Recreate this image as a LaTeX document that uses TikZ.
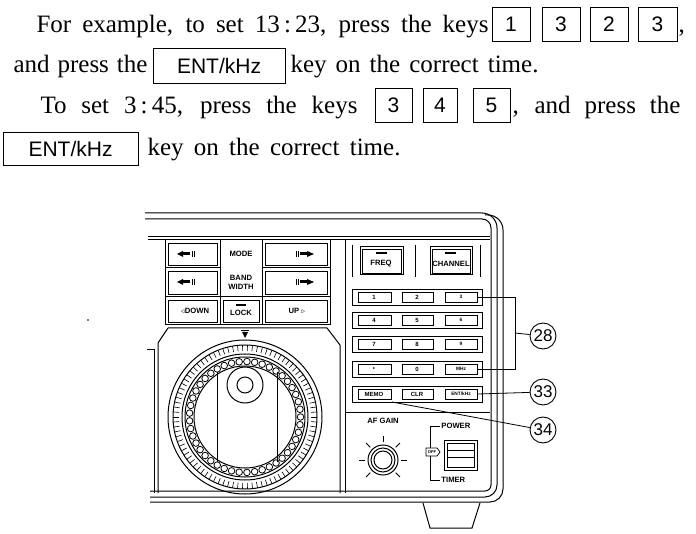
\documentclass[tikz,border=0pt]{standalone}
\usepackage{fontspec}
\setmainfont{Liberation Serif}
\setsansfont{Liberation Sans}
\begin{document}
\begin{tikzpicture}[x=1pt,y=-1pt,line width=1pt,
  body/.style={font=\fontsize{25}{28}\selectfont,anchor=base west,inner sep=0pt},
  keybox/.style={draw,line width=0.9pt,font=\sffamily\fontsize{21}{24}\selectfont,minimum height=34pt,inner sep=0pt,anchor=center},
  lbl/.style={font=\sffamily\bfseries\fontsize{8.5}{9}\selectfont,inner sep=0pt,scale=0.9},
  tiny/.style={font=\sffamily\bfseries\fontsize{6}{6}\selectfont,inner sep=0pt},
  pad/.style={draw,line width=0.9pt},
  callout/.style={draw,circle,line width=0.9pt,minimum size=26pt,inner sep=0pt,font=\sffamily\fontsize{17}{17}\selectfont}]
\useasboundingbox (0,0) rectangle (696,534);
% ---------- text ----------
\node[body] (t1) at (36,33) {\makebox[452pt][s]{For example, to set 13\,:\,23, press the keys}};
\node[keybox,minimum width=38pt] (k1) at (511,24) {1};
\node[keybox,minimum width=38pt] (k2) at (561,24) {3};
\node[keybox,minimum width=38pt] (k3) at (609,24) {2};
\node[keybox,minimum width=39pt] (k4) at (657.5,24) {3};
\node[body] (c1) at (678,33) {,};
\node[body] (t2) at (13,73) {\makebox[134pt][s]{and press the}};
\node[keybox,minimum width=132pt,minimum height=35pt] (e1) at (219,65.5) {ENT/kHz};
\node[body] (t3) at (290,73) {\makebox[248pt][s]{key on the correct time.}};
\node[body] (t4) at (40,114) {\makebox[317pt][s]{To set 3\,:\,45, press the keys}};
\node[keybox,minimum width=37pt] (k5) at (393.5,105) {3};
\node[keybox,minimum width=34pt] (k6) at (440,105) {4};
\node[keybox,minimum width=37pt] (k7) at (491.5,105) {5};
\node[body] (t5) at (512,114) {\makebox[168pt][s]{, and press the}};
\node[keybox,minimum width=135pt,minimum height=33pt] (e2) at (70.5,148.5) {ENT/kHz};
\node[body] (t6) at (147,156) {\makebox[253pt][s]{key on the correct time.}};
% ---------- casing ----------
\draw (145,213) -- (482,213) arc (-90:0:15) -- (497,485) arc (0:90:12) -- (150,497);
\draw (145,219) -- (482,219) arc (-90:0:9) -- (491,485) arc (0:90:6) -- (150,491);
\draw (150,502) -- (490,502) arc (90:0:13) -- (503,230) arc (0:-90:15) -- (485,215);
\draw (148,237) -- (490,237);
\draw (148,240) -- (490,240);
% foot
\draw (423,503) -- (430,528) -- (472,528) -- (480,503);
% left button panel
\draw (165,240) rectangle (330,325);
\foreach \x in {220,262} \draw (\x,240) -- (\x,325);
\draw (165,268) -- (220,268) (262,268) -- (330,268);
\draw (165,297) -- (330,297);
\draw[line width=0.6pt] (168,243) rectangle (217,265) (168,271) rectangle (217,294) (168,300) rectangle (217,322);
\draw[line width=0.6pt] (265,243) rectangle (327,265) (265,271) rectangle (327,294) (265,300) rectangle (327,322);
\draw[line width=0.6pt] (223,300) rectangle (259,322);
\foreach \y in {254,282}{
  \fill (182,\y-1.5) rectangle (190,\y+1.5); \fill (177,\y) -- (183,\y-3) -- (183,\y+3) -- cycle;
  \draw[line width=0.8pt] (192,\y-3) -- (192,\y+3) (194,\y-3) -- (194,\y+3);
  \fill (300,\y-1.5) rectangle (308,\y+1.5); \fill (314,\y) -- (307,\y-3) -- (307,\y+3) -- cycle;
  \draw[line width=0.8pt] (296,\y-3) -- (296,\y+3) (298,\y-3) -- (298,\y+3);}
\node[lbl] (mode) at (241,254) {MODE};
\node[lbl] (bw1) at (241,278) {BAND};
\node[lbl] (bw2) at (241,287) {WIDTH};
\node[lbl] (lock) at (241,313) {LOCK};
\fill (236,304) rectangle (246,306);
\node[lbl] (down) at (195,311) {$\triangleleft$DOWN};
\node[lbl] (up) at (297,311) {UP $\triangleright$};
% dial housing
\draw (168,328) -- (327,328) -- (340,345) -- (340,493);
\draw (168,328) -- (158,343) -- (158,493);
\draw (147,350) -- (154,350) -- (154,493);
\draw (345,340) -- (345,493);
% dial
\def\cx{245}\def\cy{417}
\draw (\cx,\cy) circle (77);
\draw (\cx,\cy) circle (72);
\foreach \a in {0,4,...,356} \draw[line width=0.6pt] ({\cx+72*cos(\a)},{\cy+72*sin(\a)}) -- ({\cx+66*cos(\a)},{\cy+66*sin(\a)});
\draw (\cx,\cy) circle (63);
\draw (\cx,\cy) circle (60);
\foreach \a in {0,8,...,352} \draw[line width=0.8pt] ({\cx+55.5*cos(\a)},{\cy+55.5*sin(\a)}) circle (3.3);
\draw (\cx,\cy) circle (51);
\draw (217,\cy-45) -- (217,\cy+45) (277,\cy-45) -- (277,\cy+45);
\fill[white] (\cx,385) circle (18);
\draw (\cx,385) circle (18) (\cx,385) circle (8);
\fill (\cx,338) -- (\cx-3,332) -- (\cx+3,332) -- cycle;
\draw (\cx-4,331) -- (\cx+4,331);
% right panel
\draw (345,240) -- (345,340);
\draw (352,245) -- (352,277) (415,245) -- (415,277) (480,245) -- (480,277);
\draw (360,247) rectangle (403,275); \draw[line width=0.6pt] (362,249) rectangle (401,273);
\draw (430,247) rectangle (472,275); \draw[line width=0.6pt] (432,249) rectangle (470,273);
\fill (376,252) rectangle (387,254); \fill (445,252) rectangle (456,254);
\node[lbl] (freq) at (381,264) {FREQ};
\node[lbl] (chan) at (451,264) {CHANNEL};
\foreach \r/\y/\a/\b/\c in {1/297/1/2/3,2/320/4/5/6,3/344/7/8/9,4/369/{\textbullet}/0/MHz,5/394/MEMO/CLR/{ENT/kHz}}{
  \draw[pad] (352,\y-8) rectangle (482,\y+8);
  \draw[pad] (358,\y-5) rectangle (391,\y+5);
  \draw[pad] (402,\y-5) rectangle (433,\y+5);
  \draw[pad] (445,\y-5) rectangle (477,\y+5);
  \node[tiny] at (374,\y) {\a};
  \node[tiny] at (417,\y) {\b};
  \node[tiny,scale=0.8] at (461,\y) {\c};}
\coordinate (k3r) at (478,297);
\coordinate (kmr) at (478,369);
\coordinate (ker) at (478,394);
\coordinate (kmm) at (392,402);
\draw (345,412) -- (490,412);
% callouts
\node[callout] (c28) at (543,336) {28};
\node[callout] (c33) at (543,392) {33};
\node[callout] (c34) at (543,430) {34};
\draw[line width=0.8pt] (k3r) -- (515,297) -- (515,369) -- (kmr);
\draw[line width=0.8pt] (515,333) -- (c28);
\draw[line width=0.8pt] (ker) -- (c33);
\draw[line width=0.8pt] (kmm) -- (c34);
% AF gain
\node[lbl] (af) at (383,421) {AF GAIN};
\draw (383,460) circle (15) (383,460) circle (12) (383,460) circle (9);
\foreach \a in {-225,-180,...,45} \draw[line width=0.8pt] ({383+18*cos(\a)},{460+18*sin(\a)}) -- ({383+24*cos(\a)},{460+24*sin(\a)});
% power switch
\draw (440,426) -- (430,426) -- (430,480) -- (440,480);
\node[lbl,anchor=west] (pw) at (441,426) {POWER};
\node[lbl,anchor=west] (tm) at (441,480) {TIMER};
\draw (444,440) rectangle (477,470); \draw[line width=0.6pt] (447,443) rectangle (474,467);
\draw[line width=0.6pt] (447,450) -- (474,450) (447,457) -- (474,457);
\draw[line width=0.7pt,fill=white] (426,448) -- (437,448) -- (440,452) -- (437,456) -- (426,456) -- cycle;
\node[tiny,scale=0.7] (off) at (432,452) {OFF};
\fill (88,320) circle (0.8);
\end{tikzpicture}
\end{document}
